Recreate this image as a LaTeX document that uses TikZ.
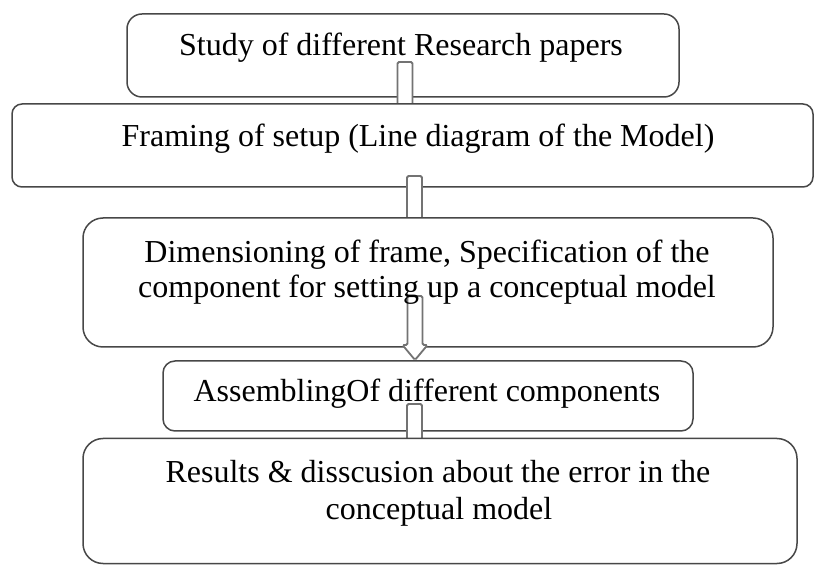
\documentclass[tikz,border=0pt]{standalone}
\usepackage{fontspec}
\setmainfont{Liberation Serif}
\usetikzlibrary{calc}
\tikzset{
  geom/.style={inner sep=0pt, outer sep=0pt},
  boxline/.style={draw=black!72, line width=1.5pt, fill=white},
  arrowbox/.style={draw=black!55, line width=1.8pt, fill=white, rounded corners=1.5pt},
  txt/.style={inner sep=0pt, anchor=base, font=\fontsize{32}{36}\selectfont, text=black}
}
% #1 source node, #2 target node, #3 x centre, #4 top offset above source south, #5 tip offset from target north
\newcommand\blkarrow[5]{%
  \filldraw[arrowbox] let \p1=(#1.south), \p2=(#2.north) in
    ({#3pt-7.5pt},{\y1+(#4)*1pt}) -- ({#3pt+7.5pt},{\y1+(#4)*1pt})
    -- ({#3pt+7.5pt},{\y2+(#5)*1pt+15pt}) -- ({#3pt+12.5pt},{\y2+(#5)*1pt+15pt})
    -- ({#3pt},{\y2+(#5)*1pt})
    -- ({#3pt-12.5pt},{\y2+(#5)*1pt+15pt}) -- ({#3pt-7.5pt},{\y2+(#5)*1pt+15pt}) -- cycle;}
\begin{document}
\begin{tikzpicture}[x=1pt,y=1pt]
\useasboundingbox (0,0) rectangle (814,565);
% box geometry
\path node[geom, minimum width=552pt, minimum height=83pt]  (b1) at (403,509.5) {};
\path node[geom, minimum width=801pt, minimum height=83pt]  (b2) at (412.5,419.5) {};
\path node[geom, minimum width=690pt, minimum height=129pt] (b3) at (428,282.5) {};
\path node[geom, minimum width=530pt, minimum height=70pt]  (b4) at (428,169) {};
\path node[geom, minimum width=714pt, minimum height=125pt] (b5) at (440,64) {};
% boxes and block arrows, drawn in stacking order
\draw[boxline, rounded corners=15pt] (b1.south west) rectangle (b1.north east);
\blkarrow{b1}{b2}{405}{35}{-25}
\draw[boxline, rounded corners=10pt] (b2.south west) rectangle (b2.north east);
\blkarrow{b2}{b3}{414.5}{11}{-25}
\draw[boxline, rounded corners=20pt] (b3.south west) rectangle (b3.north east);
\blkarrow{b3}{b4}{415}{51}{1}
\draw[boxline, rounded corners=12pt] (b4.south west) rectangle (b4.north east);
\blkarrow{b4}{b5}{414.5}{27}{-25}
\draw[boxline, rounded corners=20pt] (b5.south west) rectangle (b5.north east);
% texts
\node[txt] (t1)  at ($(b1.north)+(-2,-41.5)$) {Study of different Research papers};
\node[txt] (t2)  at ($(b2.north)+(5.5,-43)$) {Framing of setup (Line diagram of the Model)};
\node[txt] (t3a) at ($(b3.north)+(-1,-45)$) {Dimensioning of frame, Specification of the};
\node[txt] (t3b) at ($(b3.north)+(-1,-80)$) {component for setting up a conceptual model};
\node[txt] (t4)  at ($(b4.north)+(-1,-41)$) {AssemblingOf different components};
\node[txt] (t5a) at ($(b5.north)+(-2,-44)$) {Results \& disscusion about the error in the};
\node[txt] (t5b) at ($(b5.north)+(-1,-81)$) {conceptual model};
\end{tikzpicture}
\end{document}
